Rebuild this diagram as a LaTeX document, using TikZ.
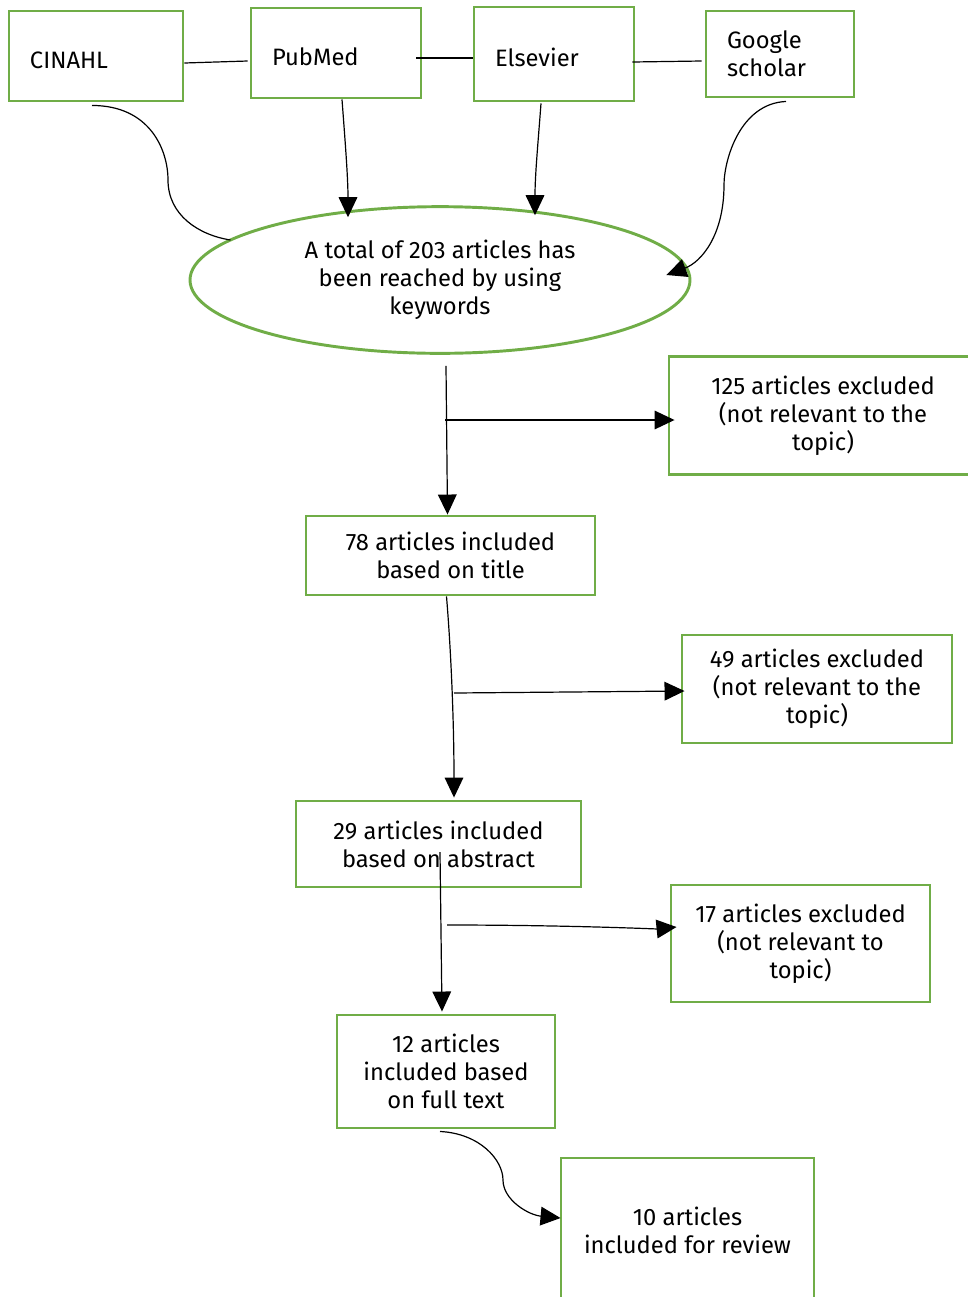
\documentclass[tikz,border=0pt]{standalone}
\usepackage{fontspec}
\setmainfont{Fira Sans}
\usepackage{tikz}
\usetikzlibrary{arrows.meta,positioning,calc,shapes.geometric}
\definecolor{grn}{HTML}{70AD47}
\begin{document}
\begin{tikzpicture}[x=0.75pt,y=-0.75pt,>={Triangle[length=15pt,width=14pt]},every node/.style={font=\fontsize{17.8}{21}\selectfont},b/.style={draw=grn,line width=2.2pt,align=center,inner sep=0pt},s/.style={b,align=left,inner xsep=15.75pt,minimum height=67.5pt},t/.style={text height=19pt},l/.style={line width=0.9pt}]
\useasboundingbox (0,0) rectangle (968,1297);
% sources
\node[s,t,text width=99pt] (cinahl) at (96,56) {CINAHL};
\node[s,t,text width=96pt] (pubmed) at (336,53) {PubMed};
\node[s,t,text width=88.5pt,minimum height=70.5pt] (elsevier) at (554,54) {Elsevier};
\node[s,text width=79.5pt,minimum height=64.5pt] (google) at (780,54) {Google\\scholar};
\node[b,ellipse,minimum width=375pt,minimum height=110pt] (total) at (440,280) {A total of 203 articles has\\been reached by using\\keywords};
% screening
\node[b,minimum width=231pt,minimum height=89pt] (excl125) at (823,415.5) {125 articles excluded\\(not relevant to the\\topic)};
\node[b,minimum width=216.75pt,minimum height=59.25pt] (incl78) at (450.5,555.5) {78 articles included\\based on title};
\node[b,minimum width=202.5pt,minimum height=81pt] (excl49) at (817,689) {49 articles excluded\\(not relevant to the\\topic)};
\node[b,minimum width=213.75pt,minimum height=64.5pt] (incl29) at (438.5,844) {29 articles included\\based on abstract};
\node[b,minimum width=194.25pt,minimum height=87.75pt] (excl17) at (800.5,943.5) {17 articles excluded\\(not relevant to\\topic)};
\node[b,minimum width=163.5pt,minimum height=84.75pt] (incl12) at (446,1071.5) {12 articles\\included based\\on full text};
\node[b,minimum width=189.75pt,minimum height=108pt] (final) at (687.5,1230) {10 articles\\included for review};
% links
\draw[l] ($(cinahl.east)+(0,7)$) -- ($(pubmed.west)+(-2,8)$);
\draw[l] ($(pubmed.east)+(-6,5)$) -- ($(elsevier.west)+(0,4)$);
\draw[l] ($(elsevier.east)+(-3,8)$) -- ($(google.west)+(-3,7)$);
\draw[l] ($(cinahl.south)+(-4,3)$) .. controls +(58,0) and +(0,-30) .. (168,180) .. controls +(0,35) and +(-32,-5) .. ($(total.west)+(42,-40)$);
\draw[l,->] ($(pubmed.south)+(6,0)$) .. controls +(3,40) and +(0,-40) .. ($(total.north)+(-92,12)$);
\draw[l,->] ($(elsevier.south)+(-13,1)$) .. controls +(-3,40) and +(0,-40) .. ($(total.north)+(95,10)$);
\draw[l,->] ($(google.south)+(6,3)$) .. controls +(-46,2) and +(0,-25) .. (724,185) .. controls +(0,50) and +(35,-13) .. ($(total.east)+(-25,-5)$);
\coordinate (t0) at ($(total.south)+(6,11)$);
\coordinate (b1) at (445,420);
\draw[l,->] (t0) -- ($(incl78.north)+(-3,0)$);
\draw[l,->] (b1) -- ($(b1 -| excl125.west)+(7,0)$);
\draw[l,->] ($(incl78.south)+(-4,0)$) .. controls +(5,60) and +(0,-70) .. ($(incl29.north)+(15.5,-2)$);
\coordinate (b2) at (454,693);
\draw[l,->] (b2) -- ($(b2 -| excl49.west)+(4,-2)$);
\draw[l,->] ($(incl29.center)+(1.5,8)$) -- ($(incl12.north)+(-4,-2)$);
\coordinate (b3) at (447,925);
\draw[l,->] (b3) .. controls +(120,0) and +(-20,2) .. ($(b3 -| excl17.west)+(7,2)$);
\draw[l,->] ($(incl12.south)+(-6,2)$) .. controls +(40,2) and +(0,-20) .. (503,1180) .. controls +(0,20) and +(-32,-3) .. ($(final.west)+(1,-12)$);
\end{tikzpicture}
\end{document}
